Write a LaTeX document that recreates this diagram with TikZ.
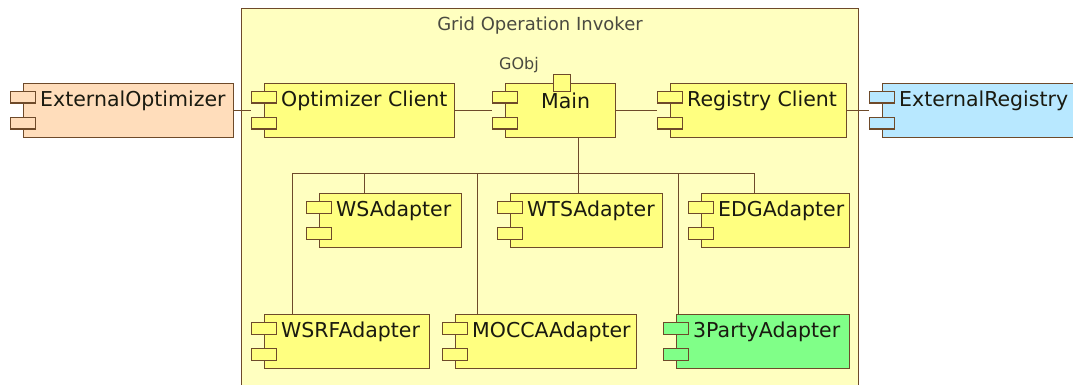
\documentclass[tikz,border=0pt]{standalone}
\usepackage{fontspec}
\setmainfont{DejaVu Sans}
\definecolor{edge}{HTML}{6E4A2A}
\definecolor{framefill}{HTML}{FFFFC0}
\definecolor{boxfill}{HTML}{FFFF80}
\definecolor{orangefill}{HTML}{FFDDBB}
\definecolor{bluefill}{HTML}{B8E8FF}
\definecolor{greenfill}{HTML}{80FF88}
\definecolor{inkcol}{HTML}{1A1A10}
\definecolor{titlecol}{HTML}{4A4A40}
\tikzset{
  x=1pt,y=-1pt,
  wire/.style={draw=edge,line width=1.4pt},
  bodybox/.style={draw=edge,line width=1.4pt,anchor=north west,inner sep=0pt,minimum height=54pt},
  portbox/.style={draw=edge,line width=1.4pt,inner sep=0pt,minimum width=25pt,minimum height=11.5pt,anchor=north west},
  complabel/.style={anchor=west,inner sep=0pt,font=\fontsize{20.5}{24}\selectfont,text=inkcol},
  thinlabel/.style={inner sep=0pt,font=\fontsize{18}{21}\selectfont,text=titlecol},
}
% #1 name, #2 left of body, #3 width, #4 top, #5 fill, #6 text
\newcommand{\compbox}[6]{%
  \node[bodybox,minimum width=#3pt,fill=#5] (#1) at (#2,#4) {};
  \node[portbox,fill=#5] (#1p1) at (#2-13,#4+8) {};
  \node[portbox,fill=#5] (#1p2) at (#2-13,#4+34) {};
  \node[complabel] (#1t) at (#2+17,#4+18) {#6};
}
\begin{document}
\begin{tikzpicture}
\useasboundingbox (0,0) rectangle (1073,385);
\clip (0,0) rectangle (1073,385);
\fill[white] (0,0) rectangle (1073,385);
\node[draw=edge,line width=1.4pt,fill=framefill,anchor=north west,inner sep=0pt,minimum width=617pt,minimum height=400pt] (frame) at (241,8) {};
\node[thinlabel] (title) at (540,26) {Grid Operation Invoker};

\compbox{ext}{23}{210}{83}{orangefill}{ExternalOptimizer}
\compbox{opt}{264}{190}{83}{boxfill}{Optimizer Client}
\compbox{main}{505}{110}{83}{boxfill}{}
\node[complabel] (maint) at (541,101) {Main};
\node[portbox,minimum width=17pt,minimum height=17pt,fill=boxfill] (gobj) at (553,74) {};
\node[thinlabel,font=\fontsize{16}{19}\selectfont] (gobjt) at (519,65) {GObj};
\compbox{reg}{670}{176}{83}{boxfill}{Registry Client}
\compbox{xreg}{882}{195}{83}{bluefill}{ExternalRegistry}

\compbox{ws}{319}{142}{193}{boxfill}{WSAdapter}
\compbox{wts}{510}{152}{193}{boxfill}{WTSAdapter}
\compbox{edg}{701}{148}{193}{boxfill}{EDGAdapter}
\compbox{wsrf}{264}{165}{314}{boxfill}{WSRFAdapter}
\compbox{mocca}{455}{181}{314}{boxfill}{MOCCAAdapter}
\compbox{third}{676}{173}{314}{greenfill}{3PartyAdapter}

\coordinate (wy) at (0,110.5);
\coordinate (busm) at (578.5,173.5);
\draw[wire] (ext.east |- wy) -- (optp1.west |- wy);
\draw[wire] (opt.east |- wy) -- (mainp1.west |- wy);
\draw[wire] (main.east |- wy) -- (regp1.west |- wy);
\draw[wire] (reg.east |- wy) -- (xregp1.west |- wy);
\draw[wire] (main.south -| busm) -- (busm);
\draw[wire] (wsrf.north -| 292.5,0) -- (292.5,173.5) -- (754.5,173.5) -- (edg.north -| 754.5,0);
\draw[wire] (364.5,173.5) -- (ws.north -| 364.5,0);
\draw[wire] (477.5,173.5) -- (mocca.north -| 477.5,0);
\draw[wire] (busm) -- (wts.north -| busm);
\draw[wire] (678.5,173.5) -- (third.north -| 678.5,0);
\end{tikzpicture}
\end{document}
